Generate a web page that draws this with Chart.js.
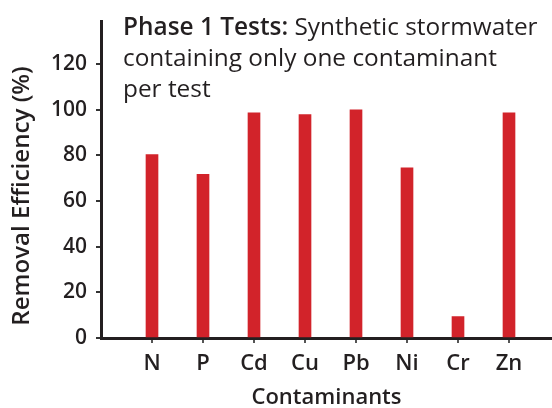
<!DOCTYPE html>
<html>
<head>
<meta charset="utf-8">
<script src="https://cdn.jsdelivr.net/npm/chart.js@4.4.0/dist/chart.umd.min.js"></script>
<style>
  html, body { margin: 0; padding: 0; background: #fff; overflow: hidden; }
  #wrap { width: 552px; height: 408px; position: relative; }
</style>
</head>
<body>
<div id="wrap"><canvas id="myChart" width="552" height="408"></canvas></div>
<script>
// data
var contaminants = ['N', 'P', 'Cd', 'Cu', 'Pb', 'Ni', 'Cr', 'Zn'];
var efficiency = [80.3, 71.6, 98.6, 97.8, 99.9, 74.5, 9.4, 98.6];
var yTicks = [0, 20, 40, 60, 80, 100, 120];

var titleBold = 'Phase 1 Tests:';
var titleLines = [' Synthetic stormwater', 'containing only one contaminant', 'per test'];
var yTitle = 'Removal Efficiency (%)';

var ink = '#231f20';
var fontFam = '"Open Sans", "Noto Sans", sans-serif';

// annotation + y title drawn on the canvas
var phaseNote = {
  id: 'phaseNote',
  afterDraw: function(chart) {
    var ctx = chart.ctx;
    var x = 123, y = 35, lh = 31;
    ctx.save();
    ctx.fillStyle = ink;
    ctx.textBaseline = 'alphabetic';
    ctx.textAlign = 'left';
    ctx.font = '600 24.4px ' + fontFam;
    ctx.fillText(titleBold, x, y);
    var w = ctx.measureText(titleBold).width;
    ctx.font = '400 24.4px ' + fontFam;
    ctx.fillText(titleLines[0], x + w, y);
    ctx.fillText(titleLines[1], x, y + lh);
    ctx.fillText(titleLines[2], x, y + lh * 2);

    // y axis title, sized to the reference length
    ctx.font = '600 22px ' + fontFam;
    var tw = ctx.measureText(yTitle).width;
    var size = 22 * 260 / tw;
    ctx.font = '600 ' + size.toFixed(1) + 'px ' + fontFam;
    ctx.translate(29, 196);
    ctx.rotate(-Math.PI / 2);
    ctx.textAlign = 'center';
    ctx.fillText(yTitle, 0, 0);
    ctx.restore();
  }
};

var ctx = document.getElementById('myChart').getContext('2d');
var chart = new Chart(ctx, {
  type: 'bar',
  data: {
    datasets: [{
      data: efficiency.map(function(v, i) { return {x: i + 1, y: v}; }),
      backgroundColor: '#d2232a',
      barThickness: 12
    }]
  },
  options: {
    responsive: false,
    animation: false,
    layout: { padding: { top: 5, right: 0, left: 0, bottom: 0 } },
    plugins: { legend: { display: false }, tooltip: { enabled: false } },
    scales: {
      x: {
        type: 'linear',
        offset: false,
        min: 0,
        max: (552 - 101) / 51,
        afterFit: function(s) { s.height = 70; },
        border: { display: true, width: 3, color: ink },
        grid: { offset: false, drawOnChartArea: false, drawTicks: true, tickLength: 5, color: '#555', lineWidth: 2 },
        afterBuildTicks: function(s) {
          s.ticks = contaminants.map(function(c, i) { return {value: i + 1}; });
        },
        ticks: {
          padding: 8,
          color: ink,
          font: { family: fontFam, size: 22, weight: '600' },
          callback: function(v) { return contaminants[v - 1] || ''; }
        },
        title: {
          display: true,
          text: 'Contaminants',
          color: ink,
          font: { family: fontFam, size: 22, weight: '600', lineHeight: 0.95 },
          padding: 0
        }
      },
      y: {
        min: 0,
        max: 138.5,
        afterFit: function(s) { s.width = 101; },
        border: { display: true, width: 3, color: ink },
        grid: { drawOnChartArea: false, drawTicks: true, tickLength: 5, color: '#333', lineWidth: 2 },
        afterBuildTicks: function(s) { s.ticks = yTicks.map(function(v) { return {value: v}; }); },
        ticks: {
          padding: 9,
          color: ink,
          font: { family: fontFam, size: 21, weight: '600' }
        }
      }
    }
  },
  plugins: [phaseNote]
});
</script>
</body>
</html>
